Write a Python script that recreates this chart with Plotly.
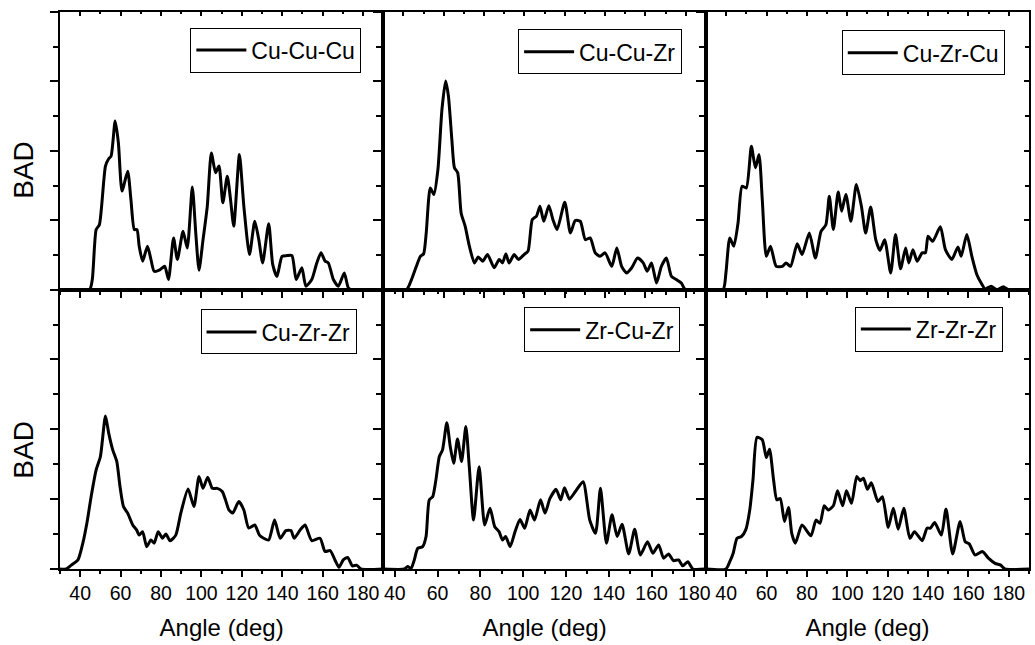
import plotly.graph_objects as go

# ---------------- data ----------------
names = ["Cu-Cu-Cu", "Cu-Cu-Zr", "Cu-Zr-Cu", "Cu-Zr-Zr", "Zr-Cu-Zr", "Zr-Zr-Zr"]

cucucu_angle = [30, 44.6, 46, 47.9, 49.5, 52.5, 54.1, 55.3, 57.3, 58.9, 60.7, 63.5, 65.1, 66.8, 68.1, 69.2,
                70.9, 73.3, 75, 76.6, 79.1, 80.7, 81.9, 83.7, 86.2, 88.1, 90.9, 93, 95.5, 97.2, 98.8,
                100.8, 102.9, 104.9, 107, 108.7, 110.6, 112.8, 114.4, 116, 118.8, 121, 123.8, 126.4,
                128.4, 130.3, 133.3, 135.3, 137.4, 139.9, 142.3, 144.8, 146.9, 149.7, 151.7, 154.6,
                157.1, 159.2, 161.2, 162.8, 165.3, 167.8, 170.7, 172.7, 174.3, 190]
cucucu_bad = [0, 0, 0.3, 1.73, 1.87, 3.56, 3.77, 3.85, 4.86, 4.23, 2.84, 3.41, 2.6, 1.73, 1.73, 1.25,
              0.82, 1.25, 0.87, 0.53, 0.56, 0.63, 0.67, 0.29, 1.49, 0.87, 1.68, 1.2, 2.96, 1.63, 0.56,
              1.44, 2.4, 3.94, 3.37, 3.56, 2.5, 3.27, 2.6, 1.83, 3.89, 2.4, 1.01, 1.97,
              1.44, 0.77, 1.9, 0.72, 0.38, 0.96, 0.98, 0.98, 0.29, 0.63, 0.1, 0.29,
              0.77, 1.06, 0.82, 0.77, 0.29, 0.1, 0.48, 0.05, 0, 0]

cucuzr_angle = [30, 41.5, 44, 46.4, 48.4, 50, 51.3, 53.3, 55.1, 57.1, 59.1, 60.9, 62.3, 64, 65.3, 66.9,
                68.6, 70.6, 72.7, 75.2, 77.1, 79.3, 81.7, 85, 87.5, 89.1, 90.8, 92.4, 94.9, 97, 99.8,
                101.8, 103.9, 106, 107.7, 109.6, 112.1, 114.1, 116.2, 120, 122.8, 125.2, 127.7, 130.2,
                132.6, 135.1, 137.5, 140, 143.3, 145.8, 148.2, 150.7, 153.2, 156.1, 158.9, 160.9, 163,
                165.5, 167.9, 170.4, 172.9, 175.3, 177.8, 179.8, 190]
cucuzr_bad = [0, 0, 0.29, 0.67, 0.96, 1.03, 1.63, 2.93, 2.74, 3.46, 5.19, 6.01, 5.58, 4.33, 3.51, 3.37,
              2.21, 1.83, 1.25, 0.77, 0.94, 0.82, 1.01, 0.63, 0.87, 0.77, 1.03, 0.77, 1.01, 0.87, 1.01,
              1.11, 2.02, 2.12, 2.4, 1.97, 2.42, 2.02, 1.73, 2.52, 1.63, 1.99, 1.97, 1.44,
              1.49, 1.06, 0.96, 1.06, 0.67, 1.2, 0.67, 0.48, 0.63, 0.91, 0.77, 0.53, 0.77,
              0.19, 0.67, 0.91, 0.38, 0.29, 0.19, 0, 0]

cuzrcu_angle = [30, 38.5, 39.9, 41.8, 43.8, 45.9, 47.9, 50, 52.5, 54.5, 56.3, 57.9, 59.9, 62, 64.8, 67.8,
                69.7, 71.9, 75.2, 77.6, 81.2, 84.2, 87, 89.4, 91.1, 93.1, 95.5, 97.2, 99.3, 101.8,
                104.5, 107, 109.1, 111.6, 114.1, 116.2, 118.5, 121.5, 123.9, 126.4, 128.9, 130.5,
                132.5, 134.6, 137.1, 138.7, 140, 142.3, 146.1, 148.6, 151.8, 154.8, 156.4, 159.2,
                161.7, 164.2, 166.3, 168.3, 171.2, 174, 177.3, 179.8, 190]
cuzrcu_bad = [0, 0, 0.48, 1.49, 1.25, 1.92, 2.98, 2.93, 4.13, 3.51, 3.89, 2.6, 0.96, 1.25, 0.67, 0.67,
              0.77, 0.67, 1.32, 1.01, 1.63, 0.91, 1.68, 1.87, 2.69, 1.73, 2.81, 2.26, 2.74, 1.97,
              3.03, 2.4, 1.63, 2.38, 1.44, 1.13, 1.44, 0.48, 1.59, 0.6, 1.2, 0.77,
              1.15, 0.82, 1.06, 1.06, 1.54, 1.39, 1.81, 1.15, 0.87, 1.23, 0.96, 1.59,
              0.96, 0.43, 0.19, 0.02, 0.1, 0, 0.08, 0, 0]

cuzrzr_angle = [30, 33.1, 35.6, 38.9, 41.3, 43.3, 45.4, 47.9, 50, 52.5, 54.1, 56.1, 58.1, 59.7, 61.4, 63.5,
                66, 67.9, 69.2, 70.9, 72.9, 75, 76.6, 78.6, 80.7, 82.4, 84.5, 87.3, 89.8, 93.4, 96.3,
                98.8, 100.8, 103.1, 105.4, 107.8, 110.3, 111.9, 113.6, 115.5, 118.5, 121, 123.4, 126.4,
                128.7, 130.8, 133.3, 136.2, 139, 141.8, 144.3, 145.9, 148.9, 151.3, 154.6, 158.7,
                161.2, 163.7, 166.1, 168.1, 170.2, 172.4, 174.7, 176.8, 178.9, 190]
cuzrzr_bad = [0, 0, 0.11, 0.26, 0.74, 1.31, 2.07, 2.84, 3.22, 4.38, 3.89, 3.41, 3.08, 2.36, 1.79, 1.6,
              1.26, 1.12, 0.97, 1.07, 0.64, 0.83, 0.74, 1.07, 0.88, 1.0, 0.81, 0.97, 1.6, 2.29, 1.79,
              2.65, 2.31, 2.63, 2.31, 2.31, 2.22, 1.98, 1.69, 1.6, 1.93, 1.69, 1.17, 1.26,
              0.97, 0.88, 0.83, 1.4, 0.88, 1.1, 1.1, 0.88, 1.12, 1.26, 0.81, 0.88,
              0.5, 0.53, 0.26, 0.05, 0.26, 0.33, 0.09, 0.11, 0, 0]

zrcuzr_angle = [35, 44.5, 46, 47.6, 49.1, 50.7, 53, 54.6, 56.1, 57.7, 59.2, 60.8, 62.3, 64.3, 65.9, 67.5,
                69.3, 71.2, 73.2, 74.8, 76.8, 79.4, 82, 84.5, 86.7, 88.7, 90.3, 91.8, 93.9, 96.2, 98.5,
                100.7, 103.2, 105.3, 108.1, 110.2, 112.5, 115.4, 117.5, 119.3, 121.6, 124.4, 128,
                131.1, 133.8, 136.1, 138.9, 141.5, 143.9, 146.2, 149.3, 152.1, 154.7, 158.1, 160.6,
                163.3, 165.6, 167.9, 170.2, 172.6, 174.6, 176.9, 179.3, 185]
zrcuzr_bad = [0, 0, 0.07, 0.02, 0.26, 0.59, 0.64, 0.93, 1.98, 2.07, 2.55, 3.22, 3.41, 4.19, 3.51, 3.03,
              3.72, 3.08, 4.08, 2.93, 1.4, 2.93, 1.26, 1.74, 1.21, 1.07, 0.83, 0.93, 0.64, 1.07, 1.42,
              1.17, 1.69, 1.4, 1.98, 1.6, 2.02, 2.28, 1.98, 2.33, 2.0, 2.22, 2.5,
              1.4, 1.02, 2.31, 0.74, 1.55, 0.93, 1.28, 0.43, 1.14, 0.4, 0.78, 0.45,
              0.69, 0.31, 0.43, 0.24, 0.26, 0.09, 0.21, 0, 0]

zrzrzr_angle = [30, 39.9, 41.8, 43.5, 45.4, 47.6, 49.7, 51.7, 53.3, 55.3, 57.9, 59.9, 61.5, 63.5, 65.1, 66.8,
                68.9, 70.9, 72.5, 74.3, 77.6, 82, 84.5, 86.5, 88.6, 90.6, 93.1, 95.2, 97.7, 99.6, 102.1,
                104.7, 106.4, 108, 110, 111.9, 115.2, 117.4, 120.3, 122.8, 125.2, 128, 131, 133.3,
                137.1, 139.5, 141.2, 143.3, 146.6, 148.9, 152.2, 155.9, 158.4, 160.4, 163.3, 166.9,
                169.9, 173.2, 176, 178.1, 190]
zrzrzr_bad = [0, 0, 0.21, 0.45, 0.88, 0.93, 1.12, 1.69, 2.55, 3.77, 3.7, 3.19, 3.43, 2.55, 1.98, 2.02,
              1.36, 1.76, 1.02, 0.74, 1.26, 0.95, 1.4, 1.31, 1.81, 1.69, 1.81, 2.24, 1.81, 2.24, 1.88,
              2.65, 2.53, 2.6, 2.28, 2.47, 1.93, 2.07, 1.19, 1.74, 1.14, 1.74, 0.88, 1.07,
              0.81, 1.17, 1.17, 1.33, 0.97, 1.72, 0.43, 1.36, 0.78, 0.72, 0.4, 0.5,
              0.31, 0.16, 0.11, 0, 0]

angles = [cucucu_angle, cucuzr_angle, cuzrcu_angle, cuzrzr_angle, zrcuzr_angle, zrzrzr_angle]
bads = [cucucu_bad, cucuzr_bad, cuzrcu_bad, cuzrzr_bad, zrcuzr_bad, zrzrzr_bad]
x_ranges = [[30, 190], [30, 190], [30, 190], [30, 190], [34.6, 185.4], [30, 190]]
x_major = [40, 60, 80, 100, 120, 140, 160, 180]
y_range = [0, 8]
y_major = [0, 2, 4, 6, 8]

# ---------------- layout geometry ----------------
W, H = 1035, 645
ML, MR, MT, MB = 60, 1, 12, 76
col_dom = [[0, 0.3336], [0.3336, 0.6666], [0.6666, 1]]
row_dom = [[0.5016, 1], [0, 0.5016]]
FONT = "Liberation Sans, Arial, sans-serif"

legend_pos = [(0.311, 0.972), (0.642, 0.969), (0.975, 0.967),
              (0.306, 0.466), (0.640, 0.470), (0.973, 0.471)]

fig = go.Figure()
layout = dict(
    width=W, height=H,
    margin=dict(l=ML, r=MR, t=MT, b=MB, pad=0),
    paper_bgcolor="white", plot_bgcolor="white",
    font=dict(family=FONT, color="black", size=19),
    showlegend=True,
)

for i in range(6):
    n = i + 1
    r, c = divmod(i, 3)
    xs = "" if n == 1 else str(n)
    lg = "legend" if n == 1 else f"legend{n}"
    fig.add_trace(go.Scatter(
        x=angles[i], y=bads[i], mode="lines", name=names[i],
        line=dict(color="black", width=3, shape="spline", smoothing=0.6),
        xaxis="x" + xs, yaxis="y" + xs, legend=lg, showlegend=True,
    ))
    bottom = (r == 1)
    layout["xaxis" + xs] = dict(
        domain=col_dom[c], anchor="y" + xs, range=x_ranges[i],
        showgrid=False, zeroline=False,
        showline=True, linecolor="black", linewidth=2,
        ticks="outside", tickvals=x_major, ticklen=6, tickwidth=1.5, tickcolor="black",
        minor=dict(ticks="outside", dtick=10, tick0=0, ticklen=3, tickwidth=1.5, tickcolor="black"),
        showticklabels=bottom, tickfont=dict(size=19.5, family=FONT),
        title=dict(text="Angle (deg)" if bottom else "", font=dict(size=24, family=FONT), standoff=16),
    )
    layout["yaxis" + xs] = dict(
        domain=row_dom[r], anchor="x" + xs, range=y_range,
        showgrid=False, zeroline=False,
        showline=True, linecolor="black", linewidth=2,
        ticks="outside", tickvals=y_major, ticklen=8, tickwidth=1.5, tickcolor="black",
        minor=dict(ticks="outside", dtick=1, tick0=0, ticklen=5, tickwidth=1.5, tickcolor="black"),
        showticklabels=False,
    )
    # mirror axes (top and right) with inward ticks
    m = n + 6
    fig.add_trace(go.Scatter(x=[], y=[], xaxis=f"x{m}", yaxis=f"y{m}",
                             showlegend=False, hoverinfo="skip"))
    layout[f"xaxis{m}"] = dict(
        overlaying="x" + xs, side="top", anchor=f"y{m}", range=x_ranges[i],
        showgrid=False, zeroline=False,
        showline=True, linecolor="black", linewidth=2,
        ticks="inside", tickvals=x_major, ticklen=4, tickwidth=1.5, tickcolor="black",
        minor=dict(ticks="inside", dtick=10, tick0=0, ticklen=2, tickwidth=1.5, tickcolor="black"),
        showticklabels=False,
    )
    layout[f"yaxis{m}"] = dict(
        overlaying="y" + xs, side="right", anchor=f"x{m}", range=y_range,
        showgrid=False, zeroline=False,
        showline=True, linecolor="black", linewidth=2,
        ticks="inside", tickvals=y_major, ticklen=5, tickwidth=1.5, tickcolor="black",
        minor=dict(ticks="inside", dtick=1, tick0=0, ticklen=4, tickwidth=1.5, tickcolor="black"),
        showticklabels=False,
    )
    lx, ly = legend_pos[i]
    layout[lg] = dict(
        x=lx, y=ly, xanchor="right", yanchor="top",
        bgcolor="white", bordercolor="black", borderwidth=1,
        font=dict(size=23, family=FONT, color="black"),
        tracegroupgap=0, itemwidth=50,
    )

annotations = []
for yc in [0.717, 0.2145]:
    annotations.append(dict(
        text="BAD", xref="paper", yref="paper", x=-0.038, y=yc,
        xanchor="center", yanchor="middle", textangle=-90, showarrow=False,
        font=dict(size=28, family=FONT, color="black"),
    ))
layout["annotations"] = annotations

fig.update_layout(**layout)
fig.write_html("out.html")
